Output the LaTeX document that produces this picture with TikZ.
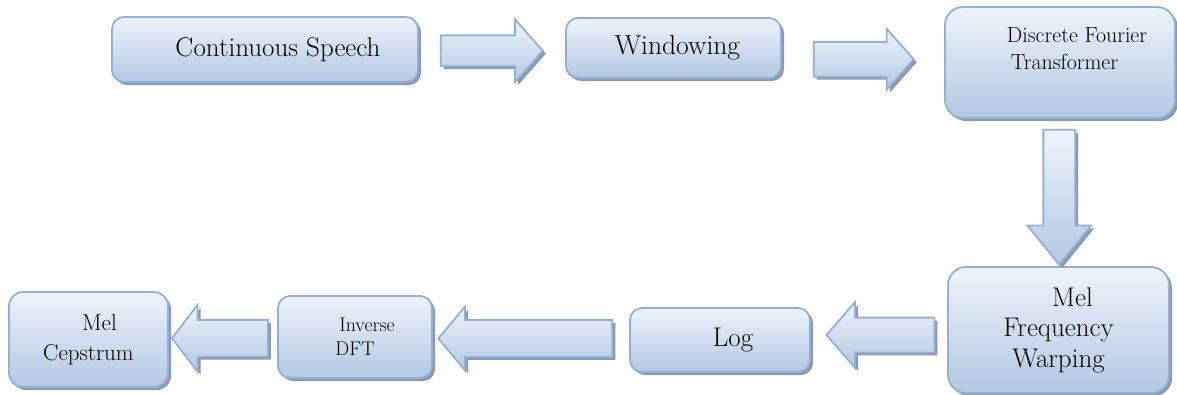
\documentclass[tikz,border=0pt]{standalone}
\usetikzlibrary{shapes.arrows,shadows,calc}

\definecolor{edgeblue}{HTML}{93B1D6}
\definecolor{paleblue}{HTML}{EEF3FA}
\definecolor{deepblue}{HTML}{B2C7E2}
\definecolor{shadeblue}{HTML}{8C9AB0}

\tikzset{
  stage/.style={draw=edgeblue, line width=1.8pt, rounded corners=12pt,
    top color=paleblue, bottom color=deepblue,
    drop shadow={shadow xshift=3pt, shadow yshift=-3pt, fill=shadeblue, opacity=1},
    align=center, inner sep=0pt},
  flow/.style n args={3}{single arrow, draw=edgeblue, line width=1.8pt,
    top color=paleblue, bottom color=deepblue,
    drop shadow={shadow xshift=3pt, shadow yshift=-3pt, fill=shadeblue, opacity=1},
    inner xsep=0pt, minimum height=#1, inner ysep=#2, single arrow head extend=#3}
}

\begin{document}
\begin{tikzpicture}[x=1pt, y=-1pt]
\useasboundingbox (0,0) rectangle (1177,394);

\node[stage, minimum width=306pt, minimum height=65pt, font=\fontsize{27}{30}\selectfont] (speech) at (265,49.5) {\hspace{26pt}Continuous Speech};
\node[stage, minimum width=215pt, minimum height=60pt, font=\fontsize{27.5}{30}\selectfont] (window) at (673.5,48) {\hspace{8pt}Windowing};
\node[stage, rounded corners=18pt, minimum width=230pt, minimum height=111pt, align=left, font=\fontsize{21.9}{27}\selectfont] (dft) at (1060,62.5) {\hspace{34pt}Discrete Fourier\\\hspace{38pt}Transformer\\ \mbox{}};
\node[stage, rounded corners=18pt, minimum width=221pt, minimum height=126pt, font=\fontsize{27}{30.5}\selectfont] (mfw) at (1058.5,330) {\hspace{28pt}Mel\\Frequency\\Warping};
\node[stage, minimum width=180pt, minimum height=64pt, font=\fontsize{27}{30}\selectfont] (log) at (720,340) {\hspace{26pt}Log};
\node[stage, minimum width=154pt, minimum height=82pt, font=\fontsize{19.8}{24}\selectfont] (idft) at (355,337) {\hspace{24pt}Inverse\\DFT};
\node[stage, rounded corners=14pt, minimum width=159pt, minimum height=95pt, font=\fontsize{23}{30}\selectfont] (cep) at (88.5,339.5) {\hspace{22pt}Mel\\Cepstrum};

\node[flow={102pt}{14.5pt}{16pt}, single arrow tip angle=97] (a1) at ($(speech.east)!0.5!(window.west)+(-7,2)$) {};
\node[flow={100pt}{16.5pt}{13pt}, single arrow tip angle=97] (a2) at ($(window.east)!0.5!(dft.west)+(-7,4)$) {};
\node[flow={135pt}{0pt}{16pt}, inner xsep=15pt, single arrow tip angle=78, shape border rotate=270] (a3) at ($(dft.south)!0.5!(mfw.north)+(0,-5)$) {};
\node[flow={108pt}{16.5pt}{15.5pt}, single arrow tip angle=98, shape border rotate=180] (a6) at ($(mfw.west)!0.5!(log.east)+(9,0)$) {};
\node[flow={174pt}{17.5pt}{13.5pt}, single arrow tip angle=100, shape border rotate=180] (a5) at ($(log.west)!0.5!(idft.east)+(2,0)$) {};
\node[flow={96pt}{17.5pt}{15pt}, single arrow tip angle=105, shape border rotate=180] (a4) at ($(idft.west)!0.5!(cep.east)+(4,0)$) {};

\end{tikzpicture}
\end{document}
